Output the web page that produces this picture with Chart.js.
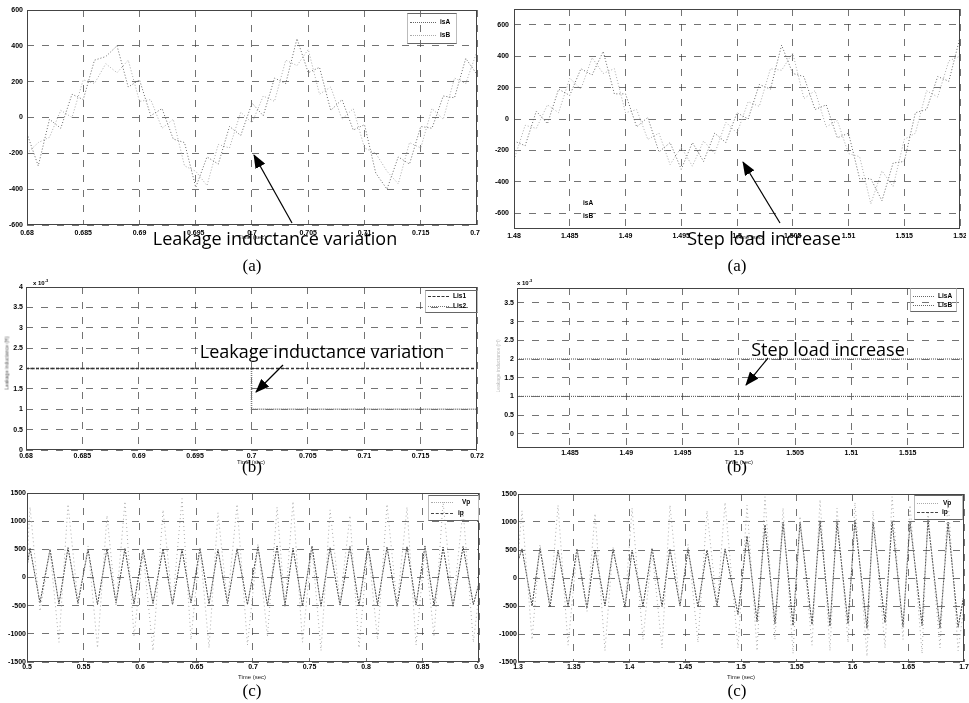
<!DOCTYPE html>
<html>
<head>
<meta charset="utf-8">
<script src="https://cdn.jsdelivr.net/npm/chart.js@4.4.1/dist/chart.umd.min.js"></script>
<style>
body { margin: 0; background: #fff; width: 969px; height: 703px; overflow: hidden; position: relative; font-family: 'Liberation Sans', Arial, sans-serif; }
canvas { position: absolute; }
.t { position: absolute; white-space: nowrap; color: #000; line-height: 1; }
.note { font-family: 'Open Sans', sans-serif; font-size: 18px; transform: translate(-50%, -50%); }
.cap { font-family: 'Liberation Serif', serif; font-size: 17px; transform: translate(-50%, -50%); }
.tiny { font-size: 6px; transform: translate(-50%, -50%); color: #222; }
.lg { font-size: 6.5px; font-weight: bold; transform: translateY(-50%); }
.box { position: absolute; border: 1px solid #666; border-left-color: #bbb; border-right-color: #bbb; }
.smp { position: absolute; height: 0; }
.exp { font-size: 6px; font-weight: bold; }
</style>
</head>
<body>
<canvas id="cTL"></canvas>
<canvas id="cTR"></canvas>
<canvas id="cML"></canvas>
<canvas id="cMR"></canvas>
<canvas id="cBL"></canvas>
<canvas id="cBR"></canvas>

<script>
// ---- data ----

// (a) left: stator currents around the leakage inductance change
const tTL = [0.680, 0.681, 0.682, 0.683, 0.684, 0.685, 0.686, 0.687, 0.688, 0.689, 0.690,
             0.691, 0.692, 0.693, 0.694, 0.695, 0.696, 0.697, 0.698, 0.699, 0.700,
             0.701, 0.702, 0.703, 0.704, 0.705, 0.706, 0.707, 0.708, 0.709, 0.710,
             0.711, 0.712, 0.713, 0.714, 0.715, 0.716, 0.717, 0.718, 0.719, 0.720];
const isA_TL = [-90, -270, -10, -60, 130, 100, 320, 340, 400, 170, 210,
                10, 50, -120, -140, -390, -220, -260, -50, -100, 80,
                10, 220, 190, 440, 250, 280, 40, 100, -70, -40,
                -310, -400, -220, -260, -50, -60, 120, 110, 330, 240];
const isB_TL = [-200, -140, -110, 40, 0, 210, 190, 300, 250, 320, 90,
                100, -60, -10, -270, -300, -380, -150, -170, 30, -30,
                120, 90, 320, 290, 380, 130, 170, -10, 50, -170,
                -200, -300, -370, -140, -170, 50, -10, 220, 190, 370];

// (a) right: stator currents around the step load
const tTR = [1.480, 1.481, 1.482, 1.483, 1.484, 1.485, 1.486, 1.487, 1.488, 1.489, 1.490,
             1.491, 1.492, 1.493, 1.494, 1.495, 1.496, 1.497, 1.498, 1.499, 1.500,
             1.501, 1.502, 1.503, 1.504, 1.505, 1.506, 1.507, 1.508, 1.509, 1.510,
             1.511, 1.512, 1.513, 1.514, 1.515, 1.516, 1.517, 1.518, 1.519, 1.520];
const isA_TR = [-140, -170, 50, -30, 190, 150, 320, 280, 430, 160, 160,
                -50, 10, -210, -150, -320, -150, -270, -90, -150, 40,
                0, 220, 190, 470, 290, 270, 60, 90, -120, -90,
                -380, -380, -520, -280, -270, 40, 60, 270, 240, 520];
const isB_TR = [-260, -40, -60, 90, 40, 260, 190, 390, 290, 320, 40,
                60, -130, -90, -290, -180, -300, -140, -220, -20, -90,
                110, 80, 320, 310, 420, 130, 180, -50, -10, -220,
                -240, -540, -330, -430, -130, -90, 180, 140, 370, 400];

// (b) leakage inductances (x 10^-3)
const tML = [0.680, 0.700, 0.700, 0.720];
const lis1 = [2, 2, 2, 2];
const lis2 = [2, 2, 1, 1];
const tMR = [1.4803, 1.520];
const lisA = [2, 2];
const lisB = [1, 1];

// (c) left: primary voltage / current, extremes of each cycle
const tBL = [0.5000, 0.5027, 0.5115, 0.5204, 0.5283, 0.5363, 0.5451, 0.5540, 0.5624, 0.5708,
             0.5788, 0.5867, 0.5947, 0.6027, 0.6115, 0.6204, 0.6288, 0.6372, 0.6451, 0.6531,
             0.6611, 0.6690, 0.6774, 0.6859, 0.6951, 0.7044, 0.7128, 0.7213, 0.7283, 0.7354,
             0.7438, 0.7522, 0.7602, 0.7682, 0.7770, 0.7858, 0.7938, 0.8018, 0.8102, 0.8186,
             0.8275, 0.8363, 0.8443, 0.8522, 0.8602, 0.8682, 0.8770, 0.8859, 0.8950, 0.9000];
const ipBL = [200, 520, -450, 500, -470, 530, -460, 500, -480, 510,
              -450, 520, -470, 500, -460, 510, -480, 500, -450, 520,
              -470, 500, -460, 510, -480, 540, -500, 560, -490, 520,
              -500, 560, -510, 530, -490, 550, -500, 560, -480, 540,
              -510, 550, -490, 560, -500, 540, -510, 550, -480, -100];
const vpBL = [300, 1250, -600, 480, -1150, 1300, -420, 560, -1250, 1100,
              -500, 1350, -1050, 450, -1300, 1200, -480, 1400, -1100, 520,
              -1250, 1150, -450, 1300, -1200, 600, -1050, 1250, -520, 1350,
              -1150, 540, -1300, 1200, -450, 1100, -1250, 560, -1100, 1300,
              -480, 1250, -1200, 520, -1050, 1350, -500, 1200, -1150, -300];

// (c) right: same signals around the step load at 1.5 s
const tBR = [1.3000, 1.3036, 1.3126, 1.3197, 1.3287, 1.3359, 1.3449, 1.3529, 1.3619, 1.3691,
             1.3780, 1.3852, 1.3960, 1.4023, 1.4121, 1.4202, 1.4292, 1.4363, 1.4453, 1.4525,
             1.4614, 1.4695, 1.4785, 1.4857, 1.4973, 1.5054, 1.5144, 1.5215, 1.5305, 1.5377,
             1.5467, 1.5529, 1.5637, 1.5709, 1.5798, 1.5861, 1.5960, 1.6022, 1.6130, 1.6184,
             1.6292, 1.6355, 1.6453, 1.6516, 1.6624, 1.6677, 1.6785, 1.6857, 1.6947, 1.7000];
const ipBR = [300, 520, -500, 530, -520, 500, -510, 520, -540, 500,
              -500, 510, -520, 500, -500, 530, -510, 520, -500, 510,
              -520, 500, -500, 520, -650, 750, -780, 950, -820, 1000,
              -850, 1000, -830, 1020, -860, 1000, -820, 1030, -900, 1000,
              -800, 1020, -870, 1000, -850, 1030, -900, 1000, -880, -300];
const vpBR = [400, 1200, -1100, 600, -450, 1300, -1200, 480, -600, 1150,
              -1300, 550, -480, 1250, -1100, 500, -1250, 1300, -520, 600,
              -1150, 1200, -500, 1350, -1250, 1300, -1300, 1450, -1100, 1250,
              -1350, 1100, -1200, 1400, -1300, 1250, -1150, 1350, -1400, 1200,
              -1250, 1450, -1100, 1300, -1350, 1200, -1250, 1400, -1300, -500];

// tick values
const ticksTopLeftX = [0.68, 0.685, 0.69, 0.695, 0.7, 0.705, 0.71, 0.715, 0.72];
const ticksTopRightX = [1.48, 1.485, 1.49, 1.495, 1.5, 1.505, 1.51, 1.515, 1.52];
const ticksMidRightX = [1.485, 1.49, 1.495, 1.5, 1.505, 1.51, 1.515];
const ticksBotLeftX = [0.5, 0.55, 0.6, 0.65, 0.7, 0.75, 0.8, 0.85, 0.9];
const ticksBotRightX = [1.3, 1.35, 1.4, 1.45, 1.5, 1.55, 1.6, 1.65, 1.7];
const ticksCurrentY = [-600, -400, -200, 0, 200, 400, 600];
const ticksLisLeftY = [0, 0.5, 1, 1.5, 2, 2.5, 3, 3.5, 4];
const ticksLisRightY = [0, 0.5, 1, 1.5, 2, 2.5, 3, 3.5];
const ticksVoltY = [-1500, -1000, -500, 0, 500, 1000, 1500];

// ---- drawing ----
const fmt = v => String(Math.round(v * 10000) / 10000);
const pts = (ts, vs) => ts.map((t, i) => ({ x: t, y: vs[i] }));
const tickFont = { size: 7, weight: 'bold', family: 'Liberation Sans' };

const boxPlugin = {
  id: 'box',
  afterDraw(chart) {
    const a = chart.chartArea, c = chart.ctx;
    c.save();
    c.strokeStyle = '#444';
    c.lineWidth = 1;
    c.strokeRect(a.left + 0.5, a.top + 0.5, a.width - 1, a.height - 1);
    c.restore();
  }
};

function line(data, color, dash, width) {
  return { data, borderColor: color, borderDash: dash, borderWidth: width || 1, pointRadius: 0, tension: 0, fill: false };
}

function panel(id, g, xr, yr, xt, yt, datasets) {
  const padT = 7, xH = 16;
  const yW = g.L - g.x0;
  const cv = document.getElementById(id);
  cv.width = g.R - g.L + yW + g.padR;
  cv.height = g.B - g.T + padT + xH;
  cv.style.left = g.x0 + 'px';
  cv.style.top = (g.T - padT) + 'px';
  const grid = { color: 'rgba(55,55,55,0.7)', lineWidth: 1, drawTicks: false };
  new Chart(cv, {
    type: 'line',
    data: { datasets },
    plugins: [boxPlugin],
    options: {
      responsive: false, animation: false, devicePixelRatio: 1,
      layout: { padding: { left: 0, top: padT, right: g.padR, bottom: 0 } },
      plugins: { legend: { display: false }, tooltip: { enabled: false } },
      scales: {
        x: {
          type: 'linear', min: xr[0], max: xr[1],
          afterBuildTicks: s => { s.ticks = xt.map(v => ({ value: v })); },
          afterFit: s => { s.height = xH; s.paddingLeft = 0; s.paddingRight = 0; },
          grid, border: { display: false, dash: [7, 8] },
          ticks: { font: tickFont, color: '#000', padding: g.px, maxRotation: 0, autoSkip: false, callback: fmt }
        },
        y: {
          type: 'linear', min: yr[0], max: yr[1],
          afterBuildTicks: s => { s.ticks = yt.map(v => ({ value: v })); },
          afterFit: s => { s.width = yW; s.paddingTop = 0; s.paddingBottom = 0; },
          grid, border: { display: false, dash: [7, 8] },
          ticks: { font: tickFont, color: '#000', padding: g.py, autoSkip: false, callback: fmt }
        }
      }
    }
  });
}

panel('cTL', { x0: 0, L: 27, T: 10, R: 477, B: 225, padR: 3, px: 4, py: 4 },
  [0.68, 0.72], [-600, 600], ticksTopLeftX, ticksCurrentY,
  [line(pts(tTL, isA_TL), '#666', [1, 2]), line(pts(tTL, isB_TL), '#aaa', [1, 2])]);

panel('cTR', { x0: 488, L: 514, T: 9, R: 960, B: 229, padR: 6, px: 3, py: 5 },
  [1.48, 1.52], [-700, 700], ticksTopRightX, ticksCurrentY,
  [line(pts(tTR, isA_TR), '#666', [1, 2]), line(pts(tTR, isB_TR), '#aaa', [1, 2])]);

panel('cML', { x0: 0, L: 26, T: 287, R: 477, B: 450, padR: 8, px: 2, py: 3 },
  [0.68, 0.72], [0, 4], ticksTopLeftX, ticksLisLeftY,
  [line(pts(tML, lis1), '#333', [3, 2], 1.5), line(pts(tML, lis2), '#777', [1, 1], 1.5)]);

panel('cMR', { x0: 488, L: 517, T: 288, R: 964, B: 448, padR: 4, px: 1, py: 3 },
  [1.4803, 1.52], [-0.38, 3.9], ticksMidRightX, ticksLisRightY,
  [line(pts(tMR, lisA), '#666', [1, 1], 1.2), line(pts(tMR, lisB), '#666', [1, 1], 1.2)]);

panel('cBL', { x0: 0, L: 27, T: 493, R: 479, B: 662, padR: 6, px: 1, py: 1 },
  [0.5, 0.9], [-1500, 1500], ticksBotLeftX, ticksVoltY,
  [line(pts(tBL, vpBL), '#aaa', [1, 3]), line(pts(tBL, ipBL), '#444', [2, 1])]);

panel('cBR', { x0: 488, L: 518, T: 494, R: 964, B: 662, padR: 5, px: 1, py: 1 },
  [1.3, 1.7], [-1500, 1500], ticksBotRightX, ticksVoltY,
  [line(pts(tBR, vpBR), '#aaa', [1, 3]), line(pts(tBR, ipBR), '#444', [2, 1])]);
</script>

<!-- legends -->
<div class="box" style="left:407px;top:13px;width:48px;height:29px"></div>
<div class="smp" style="left:410px;top:22px;width:26px;border-top:1px dotted #666"></div>
<div class="smp" style="left:410px;top:35px;width:26px;border-top:1px dotted #aaa"></div>
<div class="t lg" style="left:440px;top:22px">isA</div>
<div class="t lg" style="left:440px;top:35px">isB</div>

<div class="t lg" style="left:583px;top:203px">isA</div>
<div class="t lg" style="left:583px;top:216px">isB</div>

<div class="box" style="left:425px;top:290px;width:51px;height:21px"></div>
<div class="smp" style="left:428px;top:296px;width:21px;border-top:1px dashed #333"></div>
<div class="smp" style="left:428px;top:306px;width:21px;border-top:1px dotted #777"></div>
<div class="t lg" style="left:453px;top:296px">Lis1</div>
<div class="t lg" style="left:453px;top:306px">Lis2</div>

<div class="box" style="left:910px;top:288px;width:45px;height:22px"></div>
<div class="smp" style="left:913px;top:296px;width:21px;border-top:1px dotted #666"></div>
<div class="smp" style="left:913px;top:305px;width:21px;border-top:1px dotted #666"></div>
<div class="t lg" style="left:938px;top:296px">LisA</div>
<div class="t lg" style="left:938px;top:305px">LisB</div>

<div class="box" style="left:428px;top:495px;width:49px;height:24px"></div>
<div class="smp" style="left:431px;top:502px;width:22px;border-top:1px dotted #aaa"></div>
<div class="smp" style="left:431px;top:513px;width:22px;border-top:1px dashed #444"></div>
<div class="t lg" style="left:462px;top:502px">Vp</div>
<div class="t lg" style="left:458px;top:513px">ip</div>

<div class="box" style="left:914px;top:495px;width:47px;height:23px"></div>
<div class="smp" style="left:917px;top:503px;width:21px;border-top:1px dotted #aaa"></div>
<div class="smp" style="left:917px;top:512px;width:21px;border-top:1px dashed #444"></div>
<div class="t lg" style="left:943px;top:503px">Vp</div>
<div class="t lg" style="left:942px;top:512px">ip</div>

<!-- exponent labels and axis titles -->
<div class="t exp" style="left:33px;top:279px">x 10<sup style="font-size:4px">-3</sup></div>
<div class="t exp" style="left:517px;top:279px">x 10<sup style="font-size:4px">-3</sup></div>
<div class="t tiny" style="left:7px;top:363px;transform:translate(-50%,-50%) rotate(-90deg);font-size:5px;color:#555">Leakage inductance (H)</div>
<div class="t tiny" style="left:498px;top:366px;transform:translate(-50%,-50%) rotate(-90deg);font-size:5px;color:#bbb">Leakage inductance (H)</div>
<div class="t tiny" style="left:252px;top:237px">Time (sec)</div>
<div class="t tiny" style="left:750px;top:237px">Time (sec)</div>
<div class="t tiny" style="left:251px;top:462px">Time (sec)</div>
<div class="t tiny" style="left:739px;top:462px">Time (sec)</div>
<div class="t tiny" style="left:252px;top:677px">Time (sec)</div>
<div class="t tiny" style="left:741px;top:677px">Time (sec)</div>

<!-- annotations -->
<svg width="969" height="703" style="position:absolute;left:0;top:0">
  <defs>
    <marker id="ah" markerWidth="14" markerHeight="11" refX="13" refY="5.5" orient="auto" markerUnits="userSpaceOnUse">
      <path d="M0,0 L14,5.5 L0,11 z" fill="#000"/>
    </marker>
  </defs>
  <line x1="292" y1="223" x2="254" y2="155" stroke="#000" stroke-width="1.2" marker-end="url(#ah)"/>
  <line x1="780" y1="223" x2="743" y2="162" stroke="#000" stroke-width="1.2" marker-end="url(#ah)"/>
  <line x1="283" y1="365" x2="256" y2="392" stroke="#000" stroke-width="1.2" marker-end="url(#ah)"/>
  <line x1="768" y1="358" x2="746" y2="385" stroke="#000" stroke-width="1.2" marker-end="url(#ah)"/>
</svg>
<div class="t note" style="left:275px;top:238px">Leakage inductance variation</div>
<div class="t note" style="left:764px;top:238px">Step load increase</div>
<div class="t note" style="left:322px;top:351px">Leakage inductance variation</div>
<div class="t note" style="left:828px;top:349px">Step load increase</div>

<div class="t cap" style="left:252px;top:265px">(a)</div>
<div class="t cap" style="left:737px;top:265px">(a)</div>
<div class="t cap" style="left:252px;top:466px">(b)</div>
<div class="t cap" style="left:737px;top:466px">(b)</div>
<div class="t cap" style="left:252px;top:690px">(c)</div>
<div class="t cap" style="left:737px;top:690px">(c)</div>
</body>
</html>
